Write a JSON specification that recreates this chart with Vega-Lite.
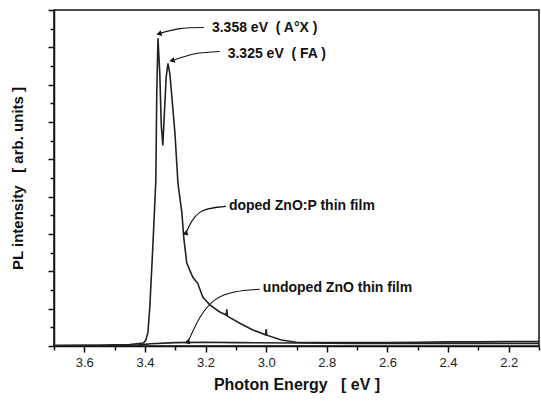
{
  "$schema": "https://vega.github.io/schema/vega-lite/v6.json",
  "width": 485,
  "height": 336,
  "autosize": {"type": "none"},
  "padding": {"left": 54, "top": 10, "right": 2, "bottom": 57},
  "background": "white",
  "config": {
    "view": {"stroke": "#111", "strokeWidth": 1.5},
    "font": "Liberation Sans",
    "axis": {"domainColor": "#111", "domainWidth": 1.5, "tickColor": "#111", "tickWidth": 1.5, "grid": false, "labelColor": "#222", "titleColor": "#111", "labelFont": "Liberation Sans", "titleFont": "Liberation Sans"}
  },
  "datasets": {
    "doped": [
      {"e": 2.10, "v": 0.12}, {"e": 2.20, "v": 0.12}, {"e": 2.30, "v": 0.11}, {"e": 2.40, "v": 0.11},
      {"e": 2.50, "v": 0.10}, {"e": 2.60, "v": 0.09}, {"e": 2.70, "v": 0.09}, {"e": 2.80, "v": 0.09},
      {"e": 2.90, "v": 0.10}, {"e": 2.95, "v": 0.16}, {"e": 2.998, "v": 0.29}, {"e": 3.0, "v": 0.45},
      {"e": 3.002, "v": 0.3}, {"e": 3.044, "v": 0.43}, {"e": 3.087, "v": 0.61}, {"e": 3.128, "v": 0.8},
      {"e": 3.13, "v": 0.98}, {"e": 3.132, "v": 0.83}, {"e": 3.153, "v": 0.91}, {"e": 3.186, "v": 1.10},
      {"e": 3.209, "v": 1.31}, {"e": 3.226, "v": 1.68}, {"e": 3.242, "v": 1.84}, {"e": 3.262, "v": 2.22},
      {"e": 3.272, "v": 2.91}, {"e": 3.278, "v": 3.56}, {"e": 3.291, "v": 4.35}, {"e": 3.301, "v": 5.7},
      {"e": 3.311, "v": 6.66}, {"e": 3.318, "v": 7.3}, {"e": 3.324, "v": 7.57}, {"e": 3.330, "v": 7.2},
      {"e": 3.336, "v": 6.2}, {"e": 3.341, "v": 5.37}, {"e": 3.346, "v": 5.9}, {"e": 3.351, "v": 7.3},
      {"e": 3.357, "v": 8.24}, {"e": 3.361, "v": 6.8}, {"e": 3.364, "v": 4.44}, {"e": 3.367, "v": 3.9},
      {"e": 3.374, "v": 2.65}, {"e": 3.384, "v": 1.04}, {"e": 3.390, "v": 0.37}, {"e": 3.397, "v": 0.16},
      {"e": 3.405, "v": 0.08}, {"e": 3.45, "v": 0.04}, {"e": 3.5, "v": 0.03}, {"e": 3.55, "v": 0.02},
      {"e": 3.6, "v": 0.02}, {"e": 3.7, "v": 0.01}
    ],
    "undoped": [
      {"e": 2.1, "v": 0.07}, {"e": 2.3, "v": 0.07}, {"e": 2.5, "v": 0.07}, {"e": 2.7, "v": 0.07},
      {"e": 2.9, "v": 0.08}, {"e": 3.1, "v": 0.09}, {"e": 3.2, "v": 0.1}, {"e": 3.3, "v": 0.09},
      {"e": 3.38, "v": 0.06}, {"e": 3.42, "v": 0.03}, {"e": 3.5, "v": 0.02}, {"e": 3.7, "v": 0.01}
    ],
    "labels": [
      {"e": 3.179, "v": 8.53, "t": "3.358 eV\u00a0\u00a0( A°X )"},
      {"e": 3.127, "v": 7.83, "t": "3.325 eV\u00a0\u00a0( FA )"},
      {"e": 3.123, "v": 3.74, "t": "doped ZnO:P thin film"},
      {"e": 3.011, "v": 1.55, "t": "undoped ZnO thin film"}
    ],
    "arrows": [
      {"a": "a", "i": 1, "e": 3.206, "v": 8.53}, {"a": "a", "i": 2, "e": 3.285, "v": 8.50}, {"a": "a", "i": 3, "e": 3.351, "v": 8.37},
      {"a": "b", "i": 1, "e": 3.153, "v": 7.89}, {"a": "b", "i": 2, "e": 3.235, "v": 7.83}, {"a": "b", "i": 3, "e": 3.308, "v": 7.65},
      {"a": "c", "i": 1, "e": 3.133, "v": 3.74}, {"a": "c", "i": 2, "e": 3.219, "v": 3.58}, {"a": "c", "i": 3, "e": 3.265, "v": 3.02},
      {"a": "d", "i": 1, "e": 3.021, "v": 1.52}, {"a": "d", "i": 2, "e": 3.170, "v": 1.23}, {"a": "d", "i": 3, "e": 3.258, "v": 0.11}
    ]
  },
  "encoding": {
    "x": {"field": "e", "type": "quantitative",
      "scale": {"domain": [2.1, 3.7], "reverse": true, "nice": false, "zero": false},
      "axis": {"title": "Photon Energy\u00a0\u00a0\u00a0[ eV ]", "titleFontSize": 16, "titleFontWeight": "bold", "titlePadding": 7,
        "values": [3.7, 3.6, 3.5, 3.4, 3.3, 3.2, 3.1, 3.0, 2.9, 2.8, 2.7, 2.6, 2.5, 2.4, 2.3, 2.2, 2.1],
        "labelExpr": "round(datum.value*10) % 2 == 0 ? format(datum.value, '.1f') : ''",
        "labelFontSize": 13, "labelPadding": 4,
        "tickSize": {"condition": {"test": "round(datum.value*10) % 2 == 0", "value": 6}, "value": 4}}},
    "y": {"field": "v", "type": "quantitative",
      "scale": {"domain": [0, 9], "nice": false},
      "axis": {"title": "PL intensity\u00a0\u00a0\u00a0[ arb. units ]", "titleFontSize": 15, "titleFontWeight": "bold", "titlePadding": 22,
        "values": [0, 0.5, 1, 1.5, 2, 2.5, 3, 3.5, 4, 4.5, 5, 5.5, 6, 6.5, 7, 7.5, 8, 8.5, 9],
        "labels": false,
        "tickSize": {"condition": {"test": "round(datum.value*2) % 2 == 0", "value": 6}, "value": 4}}}
  },
  "layer": [
    {"data": {"name": "undoped"}, "mark": {"type": "line", "color": "#222", "strokeWidth": 1.6}},
    {"data": {"name": "doped"}, "mark": {"type": "line", "color": "#222", "strokeWidth": 1.6}},
    {"data": {"name": "arrows"}, "mark": {"type": "line", "color": "#111", "strokeWidth": 1.1, "interpolate": "natural"},
      "encoding": {"detail": {"field": "a"}, "order": {"field": "i"}}},
    {"data": {"name": "arrows"}, "transform": [{"filter": "datum.i == 3"}],
      "mark": {"type": "point", "shape": "triangle", "filled": true, "color": "#111", "size": 36, "opacity": 1},
      "encoding": {"angle": {"field": "a", "type": "nominal", "scale": {"domain": ["a", "b", "c", "d"], "range": [255, 252, 214, 213]}, "legend": null}}},
    {"data": {"name": "labels"}, "mark": {"type": "text", "align": "left", "baseline": "middle", "fontSize": 14, "fontWeight": "bold", "color": "#111"},
      "encoding": {"text": {"field": "t"}}}
  ]
}
